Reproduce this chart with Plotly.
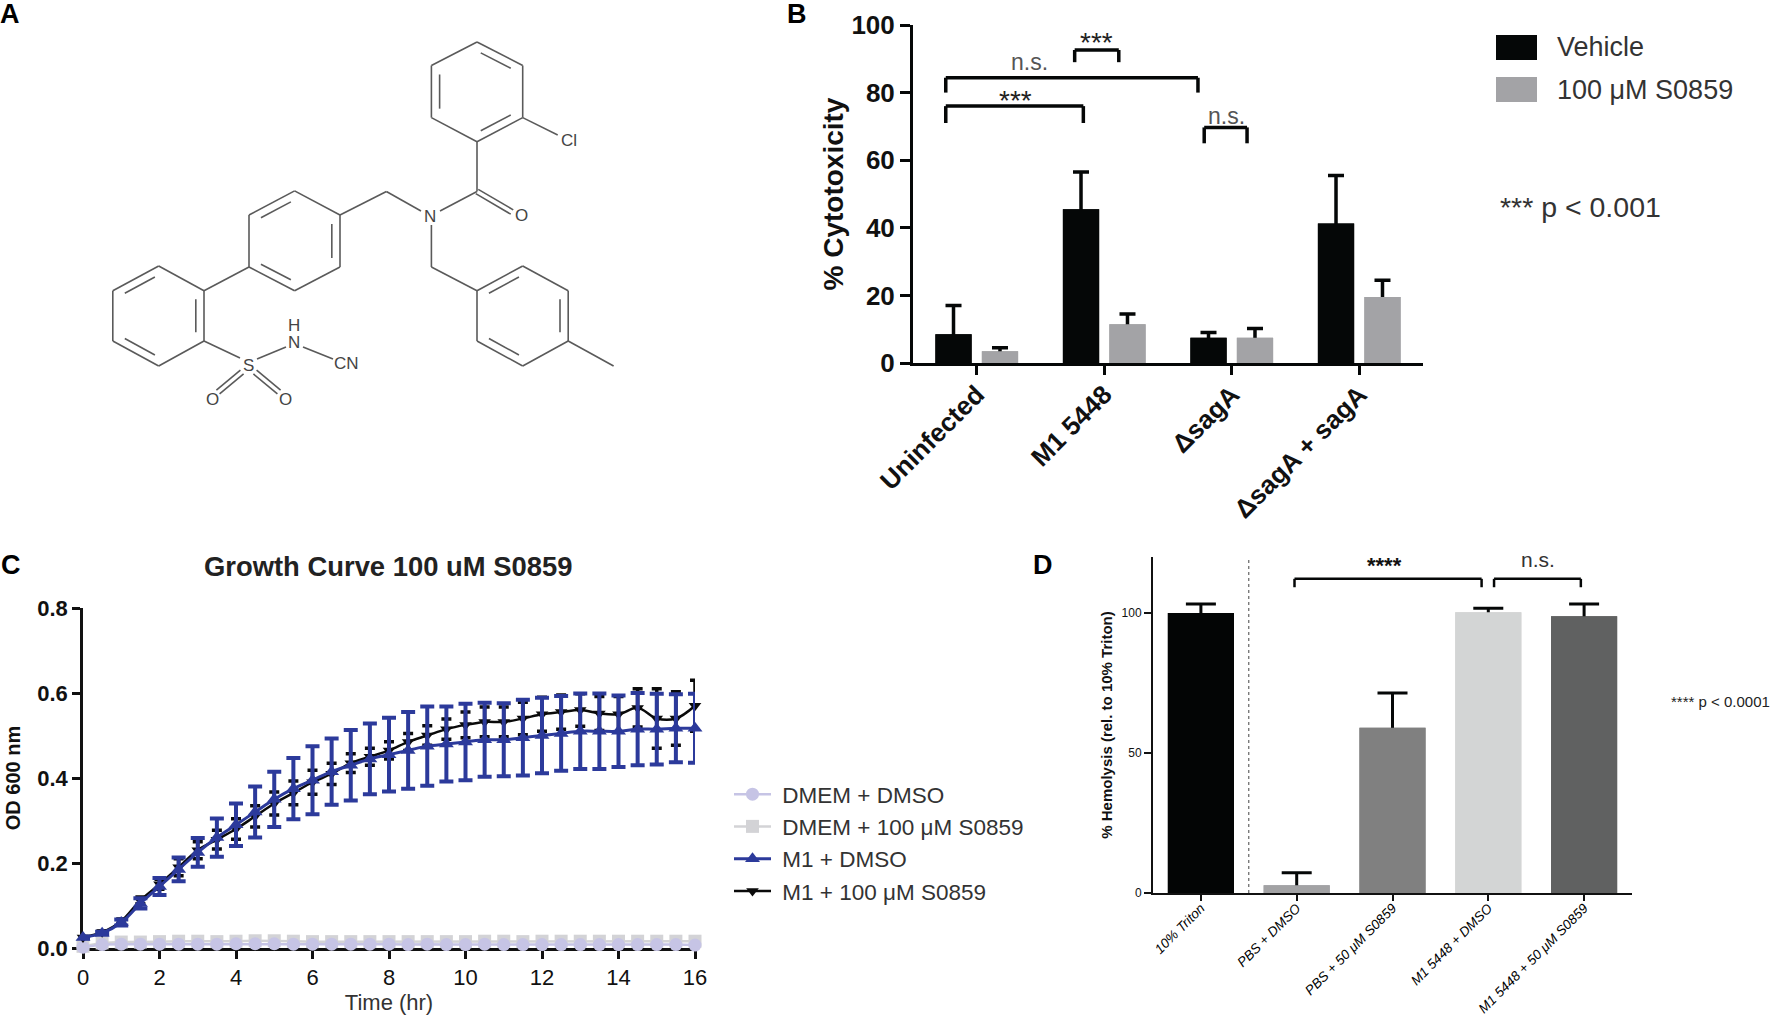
"""Four-panel S0859 figure: structure, cytotoxicity, growth curve and hemolysis."""

import plotly.graph_objects as go

W, H = 1772, 1017
SANS = "Liberation Sans, Arial, sans-serif"

# --- Panel B: cytotoxicity ---
strains = ["Uninfected", "M1 5448", "\u0394sagA", "\u0394sagA + sagA"]
vehicle = [8.5, 45.5, 7.5, 41.3]
vehicle_top = [17, 56.5, 9, 55.5]
s0859 = [3.5, 11.5, 7.5, 19.5]
s0859_top = [4.5, 14.5, 10.2, 24.5]

# --- Panel C: growth curve ---
time_hr = [i * 0.5 for i in range(33)]
m1_dmso = [.025, .035, .06, .105, .145, .185, .225, .26, .29, .32, .35, .375, .395, .415, .43, .445, .455,
           .465, .475, .48, .485, .49, .49, .495, .5, .505, .51, .51, .51, .515, .515, .517, .517]
m1_dmso_err = [.002, .003, .007, .012, .02, .028, .034, .045, .05, .06, .065, .072, .08, .078, .083, .083, .087,
               .09, .093, .088, .09, .087, .086, .089, .089, .088, .089, .089, .084, .085, .083, .08, .081]
m1_s0859 = [.025, .037, .063, .112, .15, .19, .23, .255, .28, .31, .34, .365, .39, .41, .435, .45, .465,
            .485, .5, .515, .525, .532, .532, .54, .55, .555, .56, .552, .55, .565, .54, .54, .57]
m1_s0859_err = [.002, .003, .005, .008, .012, .02, .02, .022, .024, .025, .027, .028, .028, .025, .022, .02, .02,
                .02, .023, .024, .03, .035, .035, .038, .04, .04, .038, .04, .042, .045, .07, .063, .06]
dmem_dmso = [.002, .008, .009, .009, .009, .009, .009, .009, .01, .01, .01, .009, .009, .009, .009, .009, .009,
             .008, .009, .008, .008, .009, .008, .008, .008, .008, .008, .008, .008, .008, .008, .008, .007]
dmem_s0859 = [.004, .012, .014, .014, .015, .016, .016, .015, .016, .017, .017, .016, .015, .015, .015, .015, .015,
              .015, .015, .015, .015, .016, .016, .015, .016, .016, .016, .016, .016, .016, .016, .016, .016]
dmem_err = [.003] * 33

# --- Panel D: hemolysis ---
treatments = ["10% Triton", "PBS + DMSO", "PBS + 50 \u03bcM S0859", "M1 5448 + DMSO", "M1 5448 + 50 \u03bcM S0859"]
hemolysis = [100, 2.8, 59, 100.3, 98.8]
hemolysis_top = [103.2, 7.2, 71.4, 101.7, 103.2]
hemolysis_colors = ["#030505", "#A2A2A4", "#808080", "#D3D5D5", "#606161"]


def hspan(left, right):
    return [left / W, right / W]


def vspan(top, bottom):
    return [1 - bottom / H, 1 - top / H]


fig = go.Figure()

# --- Panel A: structure, drawn on a page-sized hidden axis ---
ring_a = [(477, 42), (522.7, 65.5), (522.7, 117.6), (477, 141.8), (431.4, 117.6), (431.4, 65.5)]
ring_b = [(340, 215), (340, 267), (294.6, 290.7), (249, 267), (249, 215), (294.6, 190.9)]
ring_c = [(204, 290.7), (204, 341), (158.7, 366), (112.8, 341), (112.8, 290.7), (158.7, 266)]
ring_d = [(477, 290.7), (522.7, 266), (568.2, 290.7), (568.2, 341), (522.7, 366), (477, 341)]
ring_doubles = [(ring_a, [0, 2, 4]), (ring_b, [0, 2, 4]), (ring_c, [0, 2, 4]), (ring_d, [0, 2, 4])]
single_bonds = [
    ((522.7, 117.6), (557.7, 135)), ((477, 141.8), (477, 191.5)), ((477, 191.5), (440, 211)),
    ((421, 211), (386.4, 191.5)), ((386.4, 191.5), (340, 215)), ((431.4, 225), (431.4, 267)),
    ((431.4, 267), (477, 290.7)), ((204, 290.7), (249, 267)), ((204, 341), (240, 358)),
    ((257, 359), (286, 347)), ((303, 347), (333, 359)), ((568.2, 341), (613.6, 366)),
]
double_bonds = [((242, 372), (218, 392)), ((255, 372), (279, 392)), ((477, 191.5), (512, 212))]

bx, by = [], []


def add_bond(p, q):
    bx.extend([p[0], q[0], None])
    by.extend([p[1], q[1], None])


for ring, edges in ring_doubles:
    cx = sum(p[0] for p in ring) / 6
    cy = sum(p[1] for p in ring) / 6
    for i in range(6):
        add_bond(ring[i], ring[(i + 1) % 6])
    for i in edges:
        p, q = ring[i], ring[(i + 1) % 6]
        p2 = (cx + (p[0] - cx) * 0.82, cy + (p[1] - cy) * 0.82)
        q2 = (cx + (q[0] - cx) * 0.82, cy + (q[1] - cy) * 0.82)
        add_bond((p2[0] + (q2[0] - p2[0]) * .1, p2[1] + (q2[1] - p2[1]) * .1),
                 (q2[0] + (p2[0] - q2[0]) * .1, q2[1] + (p2[1] - q2[1]) * .1))
for p, q in single_bonds:
    add_bond(p, q)
for p, q in double_bonds:
    dx, dy = (q[1] - p[1]), -(q[0] - p[0])
    norm = (dx ** 2 + dy ** 2) ** 0.5
    add_bond((p[0] + dx / norm * 2.5, p[1] + dy / norm * 2.5), (q[0] + dx / norm * 2.5, q[1] + dy / norm * 2.5))
    add_bond((p[0] - dx / norm * 2.5, p[1] - dy / norm * 2.5), (q[0] - dx / norm * 2.5, q[1] - dy / norm * 2.5))

fig.add_trace(go.Scatter(x=bx, y=by, xaxis="x4", yaxis="y4", mode="lines",
                         line=dict(color="#5a5a5a", width=1.6), showlegend=False, hoverinfo="skip"))


def upper_error(values, tops, color, thickness, width):
    # the lower cap is pushed inside the bar, where a repeat of the bar hides it
    return dict(type="data", symmetric=False, array=[t - v for t, v in zip(tops, values)],
                arrayminus=[min(v, 3) for v in values], color=color, thickness=thickness, width=width)


# --- Panel B bars: with errors first, then the same bars again on top ---
fig.add_trace(go.Bar(x=strains, y=vehicle, marker_color="#050707", showlegend=False, offsetgroup="v",
                     error_y=upper_error(vehicle, vehicle_top, "#050707", 3.5, 8), xaxis="x", yaxis="y"))
fig.add_trace(go.Bar(x=strains, y=s0859, marker_color="#A3A3A6", showlegend=False, offsetgroup="s",
                     error_y=upper_error(s0859, s0859_top, "#050707", 3.5, 8), xaxis="x", yaxis="y"))
fig.add_trace(go.Bar(x=strains, y=vehicle, name="Vehicle", marker_color="#050707", showlegend=False,
                     offsetgroup="v", xaxis="x", yaxis="y"))
fig.add_trace(go.Bar(x=strains, y=s0859, name="100 \u03bcM S0859", marker_color="#A3A3A6", showlegend=False,
                     offsetgroup="s", xaxis="x", yaxis="y"))

# --- Panel C lines, back to front ---
fig.add_trace(go.Scatter(
    x=time_hr, y=dmem_s0859, name="\u00a0DMEM + 100 \u03bcM S0859", legendrank=2, mode="lines+markers",
    line=dict(color="#D3D3D6", width=2.5), marker=dict(symbol="square", size=13, color="#D3D3D6"),
    error_y=dict(type="data", array=dmem_err, color="#D3D3D6", thickness=2.5, width=5),
    xaxis="x2", yaxis="y2", cliponaxis=False,
))
fig.add_trace(go.Scatter(
    x=time_hr, y=dmem_dmso, name="\u00a0DMEM + DMSO", legendrank=1, mode="lines+markers",
    line=dict(color="#C6C4E5", width=2.5), marker=dict(symbol="circle", size=13, color="#C6C4E5"),
    error_y=dict(type="data", array=dmem_err, color="#C6C4E5", thickness=2.5, width=5),
    xaxis="x2", yaxis="y2", cliponaxis=False,
))
fig.add_trace(go.Scatter(
    x=time_hr, y=m1_s0859, name="\u00a0M1 + 100 \u03bcM S0859", legendrank=4, mode="lines+markers",
    line=dict(color="#0a0a0a", width=2.5, shape="spline"),
    marker=dict(symbol="triangle-down", size=11, color="#0a0a0a"),
    error_y=dict(type="data", array=m1_s0859_err, color="#0a0a0a", thickness=3.5, width=5),
    xaxis="x2", yaxis="y2", cliponaxis=False,
))
fig.add_trace(go.Scatter(
    x=time_hr, y=m1_dmso, name="\u00a0M1 + DMSO", legendrank=3, mode="lines+markers",
    line=dict(color="#2C3A9B", width=3, shape="spline"),
    marker=dict(symbol="triangle-up", size=13, color="#2C3A9B"),
    error_y=dict(type="data", array=m1_dmso_err, color="#2C3A9B", thickness=4, width=7),
    xaxis="x2", yaxis="y2", cliponaxis=False,
))

# --- Panel D bars ---
fig.add_trace(go.Bar(
    x=treatments, y=hemolysis, marker_color=hemolysis_colors, showlegend=False, offsetgroup="d",
    error_y=upper_error(hemolysis, hemolysis_top, "#050707", 3, 15),
    xaxis="x3", yaxis="y3", width=0.69,
))
fig.add_trace(go.Bar(
    x=treatments, y=hemolysis, marker_color=hemolysis_colors, showlegend=False, offsetgroup="d",
    xaxis="x3", yaxis="y3", width=0.69,
))

# --- Brackets, in each panel's own data coordinates ---
shapes = []


def bracket(xref, yref, left, right, top, bottom, width):
    line = dict(color="#050707", width=width)
    for x0, y0, x1, y1 in [(left, top, right, top), (left, top, left, bottom), (right, top, right, bottom)]:
        shapes.append(dict(type="line", xref=xref, yref=yref, x0=x0, y0=y0, x1=x1, y1=y1, line=line))


bracket("x", "y", -0.243, 0.836, 76, 71, 3.5)
bracket("x", "y", -0.243, 1.735, 84.4, 80, 3.5)
bracket("x", "y", 0.768, 1.114, 92.6, 89, 3.5)
bracket("x", "y", 1.784, 2.12, 69.7, 65, 3.5)
bracket("x3", "y3", 0.977, 2.93, 112.2, 109.2, 2.5)
bracket("x3", "y3", 3.06, 3.966, 112.2, 109.2, 2.5)
shapes.append(dict(type="line", xref="x3", yref="y3", x0=0.5, x1=0.5, y0=0, y1=120,
                   line=dict(color="#444444", width=1, dash="dot")))
# Panel B key swatches
shapes.append(dict(type="rect", xref="x4", yref="y4", x0=1496, x1=1537, y0=35, y1=60,
                   fillcolor="#050707", line_width=0))
shapes.append(dict(type="rect", xref="x4", yref="y4", x0=1496, x1=1537, y0=77, y1=102,
                   fillcolor="#A3A3A6", line_width=0))

# --- Free text, placed on the page-sized axis ---
notes = [
    ("<b>A</b>", 10, 14, 27, "#000000"),
    ("<b>B</b>", 797, 14, 27, "#000000"),
    ("<b>C</b>", 11, 565, 27, "#000000"),
    ("<b>D</b>", 1043, 565, 27, "#000000"),
    ("Cl", 569, 140, 17, "#444444"),
    ("O", 521, 215, 17, "#444444"),
    ("N", 430, 216, 17, "#444444"),
    ("H", 294, 325, 17, "#444444"),
    ("N", 294, 342, 17, "#444444"),
    ("S", 248, 365, 17, "#444444"),
    ("CN", 346, 363, 17, "#444444"),
    ("O", 212, 399, 17, "#444444"),
    ("O", 285, 399, 17, "#444444"),
    ("***", 1015, 100, 28, "#222222"),
    ("***", 1096, 42, 28, "#222222"),
    ("n.s.", 1029, 62, 23, "#555555"),
    ("n.s.", 1226, 116, 23, "#555555"),
    ("Vehicle", 1600, 47, 27, "#333333"),
    ("100 \u03bcM S0859", 1645, 90, 27, "#333333"),
    ("*** p < 0.001", 1580, 207, 28.5, "#333333"),
    ("<b>Growth Curve 100 uM S0859</b>", 388, 566, 27.4, "#222222"),
    ("<b>****</b>", 1384, 565, 22, "#111111"),
    ("n.s.", 1538, 559, 21, "#333333"),
    ("**** p < 0.0001", 1720, 701, 15, "#222222"),
]
annotations = [
    dict(text=t, x=x, y=y, xref="x4", yref="y4", showarrow=False,
         font=dict(size=s, color=c, family=SANS), xanchor="center", yanchor="middle")
    for t, x, y, s, c in notes
]

fig.update_layout(
    template="none",
    width=W, height=H, autosize=False,
    margin=dict(l=0, r=0, t=0, b=0),
    paper_bgcolor="white", plot_bgcolor="rgba(0,0,0,0)",
    barmode="group", bargap=0.271, bargroupgap=0.22,
    font=dict(family=SANS, color="#222222"),
    shapes=shapes, annotations=annotations,
    legend=dict(x=729 / W, y=1 - 773 / H, xanchor="left", yanchor="top", itemwidth=37,
                bgcolor="rgba(0,0,0,0)", font=dict(size=22.5, color="#333333", family=SANS),
                itemclick=False, itemdoubleclick=False),
    # Panel B
    xaxis=dict(domain=hspan(913, 1423), anchor="y", type="category", range=[-0.5, 3.5], automargin=False,
               showline=True, linecolor="#050707", linewidth=3, ticks="outside", ticklen=9, tickwidth=3,
               tickcolor="#050707", tickangle=-45, tickfont=dict(size=26, color="#111111", family=SANS),
               ticklabelstandoff=-6,
               tickmode="array", tickvals=strains, ticktext=[f"<b>{s}</b>" for s in strains], showgrid=False),
    yaxis=dict(domain=vspan(25, 363), anchor="x", range=[0, 100], dtick=20, automargin=False,
               showline=True, linecolor="#050707", linewidth=3, ticks="outside", ticklen=10, tickwidth=3,
               tickcolor="#050707", showgrid=False, zeroline=False,
               tickfont=dict(size=26, color="#111111", family=SANS), tickprefix="<b>", ticksuffix="</b>",
               title=dict(text="<b>% Cytotoxicity</b>", font=dict(size=28, color="#111111"), standoff=0)),
    # Panel C
    xaxis2=dict(domain=hspan(83, 695), anchor="y2", range=[0, 16], tickvals=list(range(0, 17, 2)), automargin=False,
                showline=True, linecolor="#111111", linewidth=3, ticks="outside", ticklen=8, tickwidth=2.5,
                tickcolor="#111111", showgrid=False, zeroline=False, layer="below traces",
                tickfont=dict(size=22, color="#111111"), tickprefix="<b>", ticksuffix="</b>",
                title=dict(text="Time (hr)", font=dict(size=22, color="#333333"), standoff=1)),
    yaxis2=dict(domain=vspan(608, 948), anchor="x2", range=[0, 0.8], dtick=0.2, tickformat=".1f", automargin=False,
                showline=True, linecolor="#111111", linewidth=2.5, ticks="outside", ticklen=8, tickwidth=2.5,
                tickcolor="#111111", showgrid=False, zeroline=False, layer="below traces",
                tickfont=dict(size=22, color="#111111"), tickprefix="<b>", ticksuffix="</b>",
                title=dict(text="<b>OD 600 nm</b>", font=dict(size=20, color="#111111"), standoff=12)),
    # Panel D
    xaxis3=dict(domain=hspan(1153, 1632), anchor="y3", type="category", range=[-0.5, 4.5], automargin=False,
                showline=True, linecolor="#111111", linewidth=2, ticks="outside", ticklen=6, tickwidth=2,
                tickcolor="#111111", tickangle=-45, tickfont=dict(size=13.5, color="#000000", family=SANS),
                ticklabelstandoff=-6,
                tickmode="array", tickvals=treatments, ticktext=[f"<i>{t}</i>" for t in treatments], showgrid=False),
    yaxis3=dict(domain=vspan(557, 893), anchor="x3", range=[0, 120], tickvals=[0, 50, 100], automargin=False,
                showline=True, linecolor="#111111", linewidth=2, ticks="outside", ticklen=7, tickwidth=2,
                tickcolor="#111111", showgrid=False, zeroline=False,
                tickfont=dict(size=12, color="#111111", family=SANS), tickprefix="<b>", ticksuffix="</b>",
                title=dict(text="<b>% Hemolysis (rel. to 10% Triton)</b>",
                           font=dict(size=15, color="#111111"))),
    # Page-sized helper axis for the drawing and notes
    xaxis4=dict(domain=[0, 1], anchor="y4", range=[0, W], visible=False, automargin=False),
    yaxis4=dict(domain=[0, 1], anchor="x4", range=[H, 0], visible=False, automargin=False),
)

fig.write_html("out.html", config=dict(displayModeBar=False),
               post_script="document.body.style.margin='0';document.body.style.overflow='hidden';")
